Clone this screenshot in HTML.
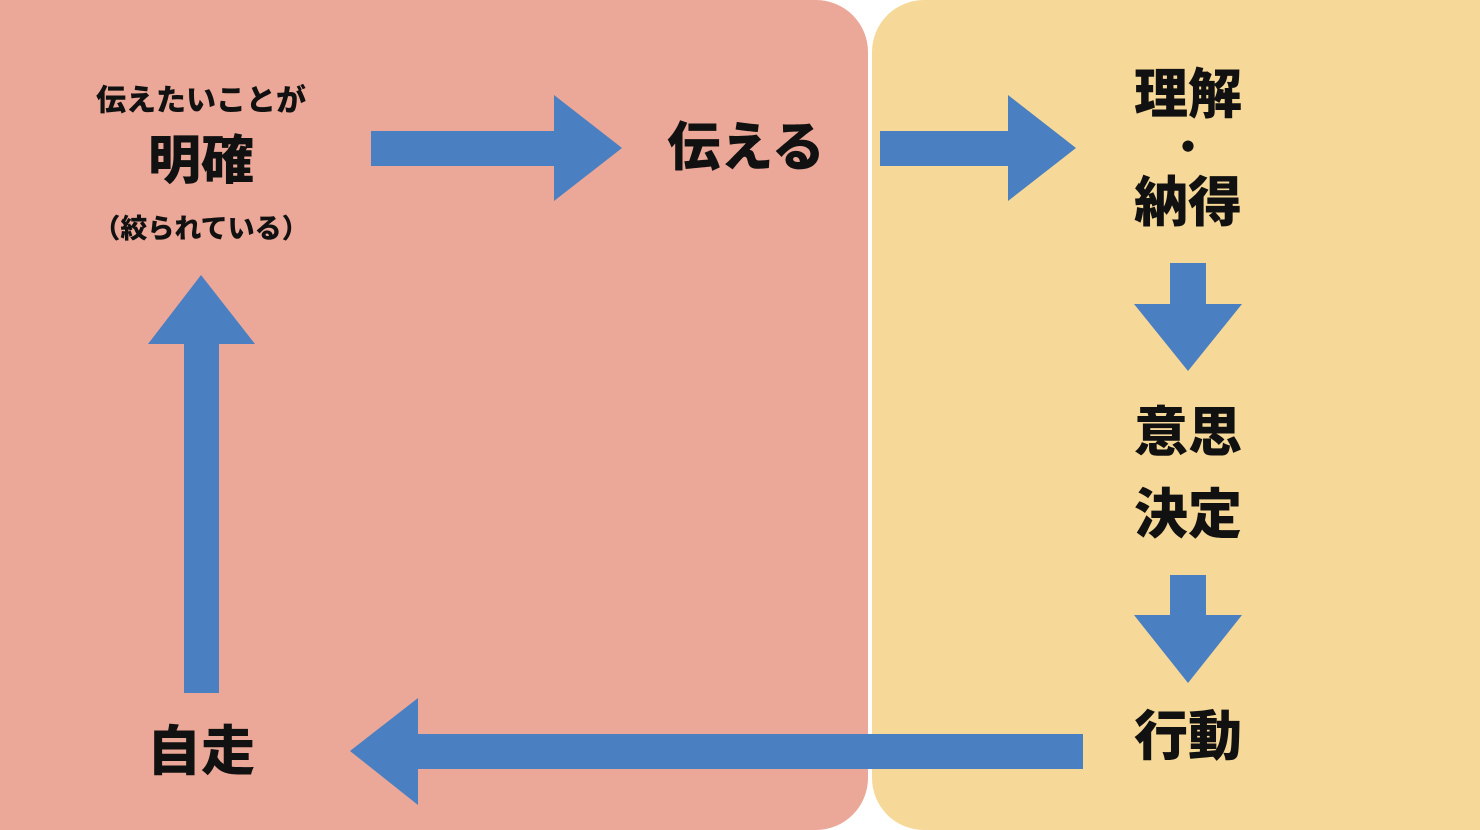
<!DOCTYPE html>
<html><head><meta charset="utf-8"><style>
html,body{margin:0;padding:0;background:#fff;}
svg{display:block}
text{font-family:"Liberation Sans","Noto Sans CJK JP",sans-serif;font-weight:900;fill:#111;text-anchor:middle;dominant-baseline:central}
</style></head><body>
<svg width="1480" height="830" viewBox="0 0 1480 830" xmlns="http://www.w3.org/2000/svg">
<rect x="-60" y="0" width="928" height="830" rx="52" fill="#EBA898"/>
<rect x="872" y="0" width="668" height="830" rx="52" fill="#F6D898"/>
<g fill="#4A7FC1">
<polygon points="371,131 554,131 554,95 622,148 554,201 554,166 371,166"/>
<polygon points="880,131 1008,131 1008,95 1076,148 1008,201 1008,166 880,166"/>
<polygon points="1170,263 1206,263 1206,304 1242,304 1188,371 1134,304 1170,304"/>
<polygon points="1170,575 1206,575 1206,615 1242,615 1188,683 1134,615 1170,615"/>
<polygon points="1083,734 1083,769 418,769 418,805 350,751 418,698 418,734"/>
<polygon points="184,693 219,693 219,344 255,344 201,275 148,344 184,344"/>
</g>
<text x="201" y="101" font-size="30">伝えたいことが</text>
<text x="201" y="161" font-size="53">明確</text>
<text x="201" y="229" font-size="27">（絞られている）</text>
<text x="746" y="148" font-size="53">伝える</text>
<text x="1188" y="95" font-size="54">理解</text>
<text x="1188" y="148" font-size="40">・</text>
<text x="1188" y="203" font-size="54">納得</text>
<text x="1188" y="433" font-size="54">意思</text>
<text x="1188" y="515" font-size="54">決定</text>
<text x="1188" y="737" font-size="54">行動</text>
<text x="201" y="752" font-size="54">自走</text>
</svg>
</body></html>
